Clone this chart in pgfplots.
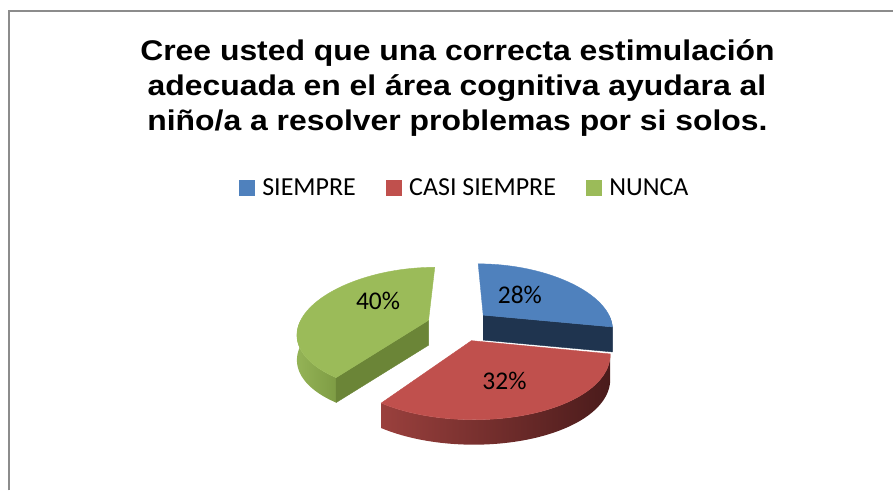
\documentclass[border=0pt]{standalone}
\usepackage{pgfplots}
\pgfplotsset{compat=1.18}
\usepackage{pgfplotstable}
\usepackage{fontspec}
\setmainfont{Carlito}
\newfontfamily\arialfont{Liberation Sans}

\definecolor{cBlue}{HTML}{4F81BD}
\definecolor{cBlueCut}{HTML}{1F344F}
\definecolor{cBlueSide}{HTML}{2B4566}
\definecolor{cRed}{HTML}{C0504D}
\definecolor{cRedL}{HTML}{9A403D}
\definecolor{cRedR}{HTML}{4A1B1B}
\definecolor{cRedCut}{HTML}{7A2E2C}
\definecolor{cGreen}{HTML}{9BBB59}
\definecolor{cGreenL}{HTML}{94B356}
\definecolor{cGreenR}{HTML}{7E9C44}
\definecolor{cGreenCut}{HTML}{6B8537}
\definecolor{cFrame}{HTML}{8C8C8C}

% share of each answer (percent)
\pgfplotstableread{
answer value
SIEMPRE 28
CASI_SIEMPRE 32
NUNCA 40
}\piedata
\pgfplotstablegetelem{0}{value}\of\piedata \let\vA\pgfplotsretval
\pgfplotstablegetelem{1}{value}\of\piedata \let\vB\pgfplotsretval
\pgfplotstablegetelem{2}{value}\of\piedata \let\vC\pgfplotsretval

\def\ex{0.25}% explode distance (radius units)
\def\hh{25}% thickness in px

\newcommand\slice[6]{%
  \pgfmathsetmacro\sa{#1}\pgfmathsetmacro\sb{#2}%
  \pgfmathsetmacro\sm{(\sa+\sb)/2}%
  \pgfmathsetmacro\du{\ex*cos(\sm)}\pgfmathsetmacro\dv{\ex*sin(\sm)}%
  \pgfmathsetmacro\ta{max(\sa,-180)}\pgfmathsetmacro\tb{min(\sb,0)}%
  % outer curved side (front half only)
  \pgfmathparse{(\tb-\ta>0.5)?1:0}%
  \ifdim\pgfmathresult pt>0.5pt
    \addplot[forget plot, draw=none, left color=#4, right color=#5, variable=\t,
      samples at={0,1,...,100,200,201,...,300}]
      ({PX(\du+cos(sd(\t,\ta,\tb)), \dv+sin(sd(\t,\ta,\tb)))},
       {PY(\dv+sin(sd(\t,\ta,\tb))) + ((\t>150) ? \hh : 0)});
  \fi
  % apex point
  \pgfmathsetmacro\xo{PX(\du,\dv)}\pgfmathsetmacro\yo{PY(\dv)}%
  \pgfmathsetmacro\yob{\yo+\hh}%
  % start cut face
  \pgfmathparse{(cos(\sa)>0.01)?1:0}%
  \ifdim\pgfmathresult pt>0.5pt
    \pgfmathsetmacro\xr{PX(\du+cos(\sa),\dv+sin(\sa))}%
    \pgfmathsetmacro\yr{PY(\dv+sin(\sa))}\pgfmathsetmacro\yrb{\yr+\hh}%
    \addplot[forget plot, draw=#6, line width=0.4pt, fill=#6] coordinates
      {(\xo,\yo) (\xr,\yr) (\xr,\yrb) (\xo,\yob)} --cycle;
  \fi
  % end cut face
  \pgfmathparse{(cos(\sb)<-0.01)?1:0}%
  \ifdim\pgfmathresult pt>0.5pt
    \pgfmathsetmacro\xr{PX(\du+cos(\sb),\dv+sin(\sb))}%
    \pgfmathsetmacro\yr{PY(\dv+sin(\sb))}\pgfmathsetmacro\yrb{\yr+\hh}%
    \addplot[forget plot, draw=#6, line width=0.4pt, fill=#6] coordinates
      {(\xo,\yo) (\xr,\yr) (\xr,\yrb) (\xo,\yob)} --cycle;
  \fi
  % top face
  \addplot[forget plot, draw=#3, line width=0.4pt, fill=#3, variable=\t,
    samples at={-1,0,1,...,100,101}]
    ({PX(\du+rr(\t)*cos(an(\t,\sa,\sb)), \dv+rr(\t)*sin(an(\t,\sa,\sb)))},
     {PY(\dv+rr(\t)*sin(an(\t,\sa,\sb)))});
}

\begin{document}
\begin{tikzpicture}[declare function={
    PX(\u,\v)=459.5+130*\u*(1-0.2*\v);
    PY(\v)=325.5-64.5*\v+10*\v*\v;
    an(\t,\p,\q)=\p+(\q-\p)*min(1,max(0,\t/100));
    rr(\t)=((\t<0) || (\t>100)) ? 0 : 1;
    sd(\t,\p,\q)=(\t<150) ? (\p+(\q-\p)*\t/100) : (\q-(\q-\p)*(\t-200)/100);
  }]
\begin{axis}[
  width=894pt, height=491pt, scale only axis,
  xmin=0, xmax=894, ymin=0, ymax=491, y dir=reverse,
  hide axis, clip=false,
  legend image code/.code={\fill[#1] (0pt,-7.5pt) rectangle (15pt,7.5pt);},
  legend style={at={(axis cs:239,187.5)}, anchor=west, draw=none, fill=none,
    inner sep=0pt, legend columns=-1,
    font=\fontsize{26}{30}\selectfont,
    nodes={inner sep=0pt, text depth=0pt},
    /tikz/every odd column/.append style={column sep=8pt},
    /tikz/every even column/.append style={column sep=30pt}},
]
\path (axis cs:0,0) rectangle (axis cs:894,491);
\draw[cFrame, line width=2pt] (axis cs:9.5,491) -- (axis cs:9.5,11) -- (axis cs:894,11);

\pgfmathsetmacro\aA{90-3.6*\vA}
\pgfmathsetmacro\aB{\aA-3.6*\vB}
\pgfmathsetmacro\aC{\aB-3.6*\vC}
% back slices first
\slice{\aC}{\aB}{cGreen}{cGreenL}{cGreenR}{cGreenCut}
\slice{\aA}{90}{cBlue}{cBlueSide}{cBlueSide}{cBlueCut}
\slice{\aB}{\aA}{cRed}{cRedL}{cRedR}{cRedCut}

\addlegendimage{cBlue}\addlegendentry{SIEMPRE}
\addlegendimage{cRed}\addlegendentry{CASI SIEMPRE}
\addlegendimage{cGreen}\addlegendentry{NUNCA}

\node[font=\fontsize{25.5}{30}\selectfont] at (axis cs:520.5,295.5) {28\%};
\node[font=\fontsize{25.5}{30}\selectfont] at (axis cs:505,381.5) {32\%};
\node[font=\fontsize{25.5}{30}\selectfont] at (axis cs:378.5,301.5) {40\%};

\begin{scope}[font=\arialfont\bfseries\fontsize{28.5}{35}\selectfont]
\node[anchor=base, inner sep=0pt, xscale=1.12, transform shape] at (axis cs:458,60.7) {Cree usted que una correcta estimulación};
\node[anchor=base, inner sep=0pt, xscale=1.12, transform shape] at (axis cs:457.5,95.7) {adecuada en el área cognitiva ayudara al};
\node[anchor=base, inner sep=0pt, xscale=1.12, transform shape] at (axis cs:458,130.5) {niño/a a resolver problemas por si solos.};
\end{scope}
\end{axis}
\end{tikzpicture}
\end{document}
